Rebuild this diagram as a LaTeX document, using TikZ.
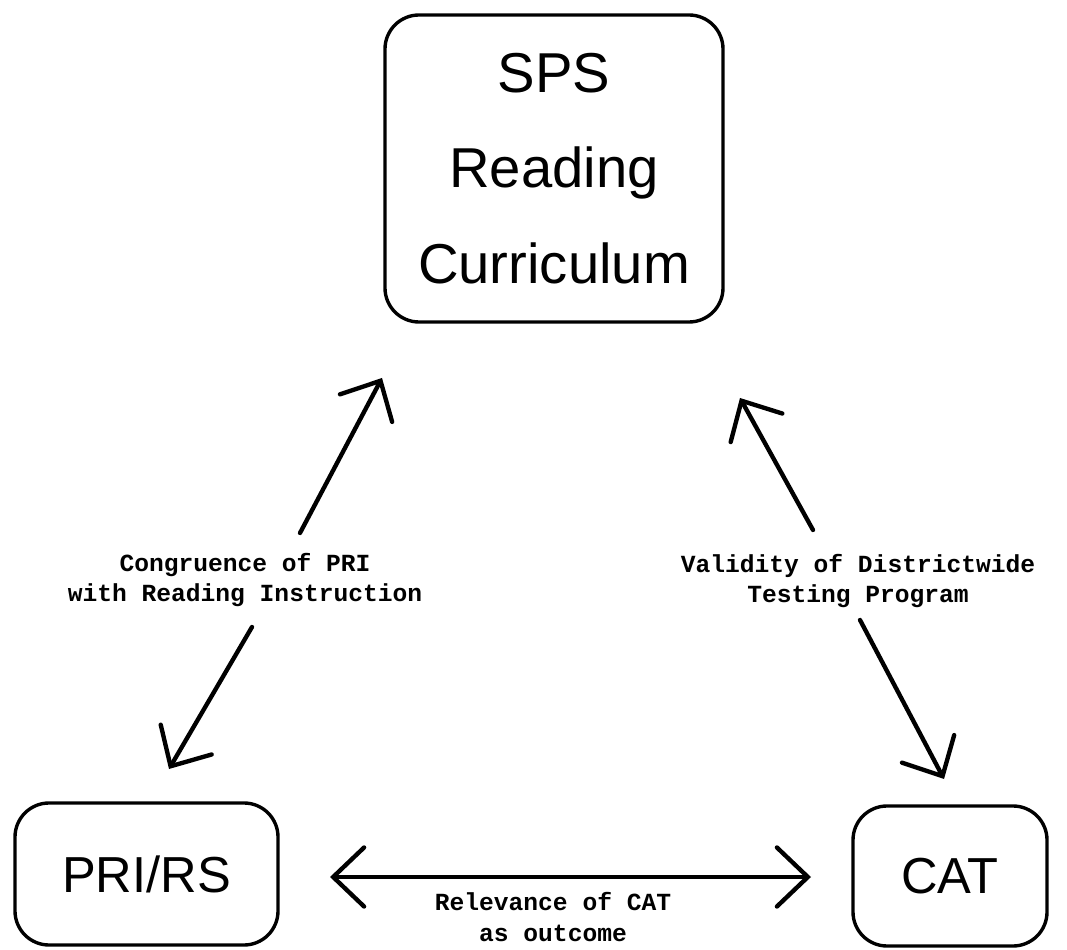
\documentclass[tikz,border=0pt]{standalone}
\usepackage{fontspec}
\setmonofont{Liberation Mono}
\newfontfamily\lettering{Liberation Sans}
\usepackage{tikz}
\usetikzlibrary{arrows.meta,positioning,calc}

\begin{document}
\begin{tikzpicture}[>={Straight Barb[length=22pt,width=42pt,line cap=round]},
  box/.style={draw,line width=2.4pt,rounded corners=0.85cm,align=center,
    inner sep=0pt,font=\lettering},
  lbl/.style={align=center,font=\ttfamily\bfseries\fontsize{17.5}{22}\selectfont},
  link/.style={<->,line width=3.1pt,line cap=round}]
\useasboundingbox (0,0) rectangle (26.675,23.725);
% boxes
\node[box,minimum width=8.45cm,minimum height=7.675cm,
  font=\lettering\fontsize{40}{68}\selectfont] (sps) at (13.85,19.5125)
  {SPS\\Reading\\Curriculum};
\node[box,minimum width=6.575cm,minimum height=3.55cm,
  font=\lettering\fontsize{36}{40}\selectfont] (pri) at (3.6625,1.875) {PRI/RS};
\node[box,minimum width=4.85cm,minimum height=3.5cm,
  font=\lettering\fontsize{36}{40}\selectfont] (cat) at (23.75,1.825) {CAT};
% labels
\node[lbl] (congr) at (6.125,9.225) {Congruence of PRI\\with Reading Instruction};
\node[lbl] (valid) at (21.45,9.2) {Validity of Districtwide\\Testing Program};
\node[lbl] (relev) at (13.825,0.8) {Relevance of CAT\\as outcome};
% arrow ends
\coordinate (lu0) at (7.5,10.4);    \coordinate (lu1) at (9.55,14.275);
\coordinate (ll0) at (6.3,8.05);    \coordinate (ll1) at (4.225,4.5);
\coordinate (ru0) at (20.325,10.475);\coordinate (ru1) at (18.5,13.775);
\coordinate (rl0) at (21.5,8.225);  \coordinate (rl1) at (23.6,4.25);
\coordinate (hl) at (8.25,1.8);     \coordinate (hr) at (20.275,1.8);
\draw[link,-{>}] (lu0) -- (lu1);
\draw[link,-{>}] (ll0) -- (ll1);
\draw[link,-{>}] (ru0) -- (ru1);
\draw[link,-{>}] (rl0) -- (rl1);
\draw[link] (hl) -- (hr);
\end{tikzpicture}
\end{document}
